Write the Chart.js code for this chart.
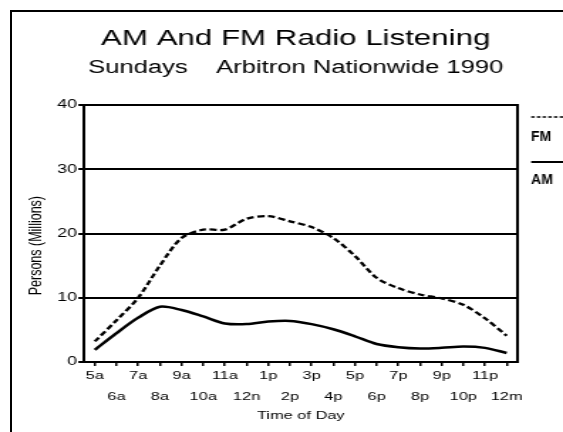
<!DOCTYPE html>
<html><head><meta charset="utf-8">
<script src="https://cdn.jsdelivr.net/npm/chart.js@4"></script>
<style>
html,body{margin:0;padding:0;background:#fff;overflow:hidden;width:563px;height:432px}
#frame{position:absolute;left:10px;top:10px;width:560px;height:430px;border-top:2px solid #000;border-left:2px solid #000;}
#wrap{position:absolute;left:0;top:0;width:396px;height:432px;transform:scaleX(1.42172);transform-origin:0 0;}
</style></head><body>
<div id="frame"></div>
<div id="wrap"><canvas id="c" width="396" height="432"></canvas></div>
<script>
const hours = ['5a','6a','7a','8a','9a','10a','11a','12n','1p','2p','3p','4p','5p','6p','7p','8p','9p','10p','11p','12m'];
const fmValues = [3.2, 6.5, 10.0, 15.0, 19.3, 20.6, 20.6, 22.3, 22.7, 21.9, 21.0, 19.3, 16.5, 13.1, 11.5, 10.5, 9.9, 8.9, 6.8, 4.1];
const amValues = [1.9, 4.5, 6.9, 8.6, 8.1, 7.1, 6.0, 5.9, 6.3, 6.4, 5.9, 5.1, 4.0, 2.8, 2.3, 2.1, 2.2, 2.4, 2.2, 1.4];
const yTickValues = [0, 10, 20, 30, 40];
const seriesLabels = ['FM', 'AM'];

const SX = 563 / 396;
const FONT = '"Liberation Sans", Arial, Helvetica, sans-serif';

const stackedLegend = {
  id: 'stackedLegend',
  afterDraw(chart) {
    const { ctx, chartArea: a } = chart;
    const x0 = a.right + 9.6, x1 = chart.width;
    const rows = [[12, 31.7], [57, 75]];
    chart.data.datasets.forEach((ds, i) => {
      const [ly, ty] = rows[i];
      ctx.save();
      ctx.strokeStyle = ds.borderColor;
      ctx.lineWidth = i === 0 ? 1.5 : 2;
      ctx.setLineDash(i === 0 ? [2.5, 1.5] : []);
      ctx.beginPath();
      ctx.moveTo(x0, a.top + ly);
      ctx.lineTo(x1, a.top + ly);
      ctx.stroke();
      ctx.setLineDash([]);
      ctx.translate(x0, a.top + ty);
      ctx.scale(1 / SX, 1);
      ctx.fillStyle = '#000';
      ctx.font = 'bold 14px ' + FONT;
      ctx.textBaseline = 'middle';
      ctx.textAlign = 'left';
      ctx.fillText(ds.label, 0, 0);
      ctx.restore();
    });
  }
};

new Chart(document.getElementById('c'), {
  type: 'line',
  data: {
    labels: hours,
    datasets: [
      { label: seriesLabels[0], data: fmValues, borderColor: '#000', borderWidth: 2.3, borderDash: [5, 2.5],
        pointRadius: 0, tension: 0.3, fill: false },
      { label: seriesLabels[1], data: amValues, borderColor: '#000', borderWidth: 2.5,
        pointRadius: 0, tension: 0.3, fill: false }
    ]
  },
  options: {
    responsive: false,
    animation: false,
    devicePixelRatio: 1,
    layout: { padding: { left: 20, right: 0, top: 0, bottom: 0 } },
    plugins: {
      legend: { display: false },
      tooltip: { enabled: false },
      title: { display: true, text: 'AM And FM Radio Listening', color: '#000',
        font: { family: FONT, size: 22, weight: 'normal', lineHeight: 1.2 }, padding: { top: 26, bottom: 0 } },
      subtitle: { display: true, text: 'Sundays    Arbitron Nationwide 1990', color: '#000',
        font: { family: FONT, size: 18, weight: 'normal', lineHeight: 1.2 }, padding: { top: 5, bottom: 26 } }
    },
    scales: {
      x: {
        type: 'category',
        offset: true,
        grid: { display: true, drawOnChartArea: false, drawTicks: true, tickLength: 4, offset: false, color: '#000', lineWidth: 1.5 },
        border: { display: true, color: '#000', width: 2 },
        ticks: {
          autoSkip: false, maxRotation: 0, minRotation: 0, padding: 0, color: '#000',
          font: { family: FONT, size: 11.5, lineHeight: 1.78 },
          callback(v, i) { return i % 2 ? ['', hours[i]] : hours[i]; }
        },
        title: { display: true, text: 'Time of Day', color: '#000',
          font: { family: FONT, size: 11.5, lineHeight: 1.2 }, padding: { top: 0, bottom: 9.6 } },
        afterFit(s) { s.height = 70; }
      },
      y: {
        min: 0, max: 40,
        afterBuildTicks(s) { s.ticks = yTickValues.map(v => ({ value: v })); },
        ticks: { padding: 1, color: '#000', font: { family: FONT, size: 12.5 } },
        grid: { color: '#000', lineWidth: 2, tickLength: 4, drawTicks: true },
        border: { display: true, color: '#000', width: 2 },
        title: { display: true, text: 'Persons (Millions)       ', color: '#000',
          font: { family: FONT, size: 12.5, lineHeight: 1.2 }, padding: { top: -1.7, bottom: 0 } },
        afterFit(s) { s.width = 39.1; }
      },
      y2: {
        position: 'right', min: 0, max: 40, display: true,
        ticks: { display: false },
        grid: { display: false, drawTicks: false },
        border: { display: true, color: '#000', width: 2 },
        afterFit(s) { s.width = 32; }
      }
    }
  },
  plugins: [stackedLegend]
});
</script>
</body></html>
